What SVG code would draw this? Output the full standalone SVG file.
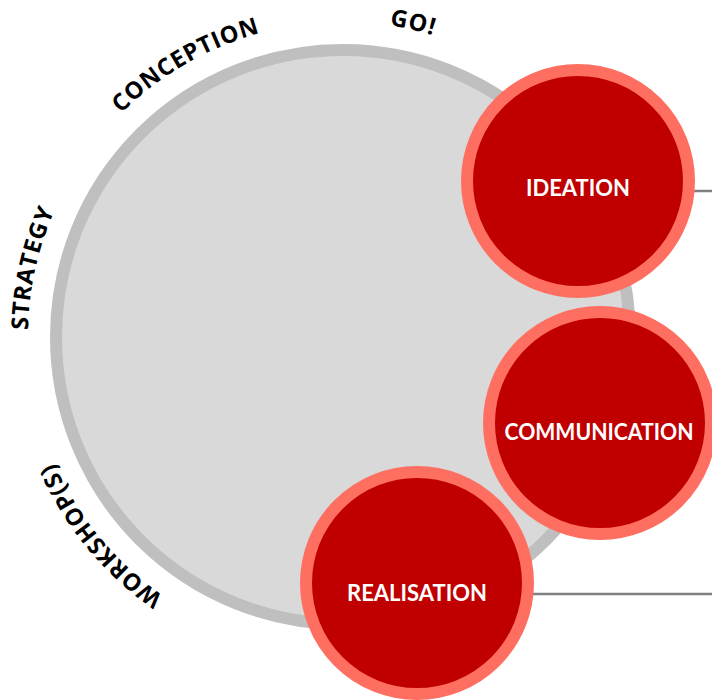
<svg xmlns="http://www.w3.org/2000/svg" xmlns:xlink="http://www.w3.org/1999/xlink" width="712" height="700" viewBox="0 0 712 700">
<style>
.arc{font-family:"Open Sans","DejaVu Sans",sans-serif;font-weight:700;font-size:23.5px;fill:#000;letter-spacing:0.8px}
.node circle{fill:#c00000;stroke:#ff6f61;stroke-width:12}
.node text{font-family:Lato,"Liberation Sans",sans-serif;font-weight:700;font-size:22px;fill:#fff;text-anchor:middle}
.conn line{stroke:#808080;stroke-width:2.5}
</style>
<defs>
<path id="ring" d="M 658 337 A 315 315 0 1 1 28 337 A 315 315 0 1 1 658 337"/>
</defs>
<rect width="712" height="700" fill="#fff"/>
<g id="main">
<circle cx="343" cy="337" r="287" fill="#d9d9d9" stroke="#bfbfbf" stroke-width="12"/>
</g>
<g id="labels" class="arc">
<text><textPath xlink:href="#ring" href="#ring" startOffset="773" text-anchor="middle">WORKSHOP(S)</textPath></text>
<text><textPath xlink:href="#ring" href="#ring" startOffset="1058" text-anchor="middle">STRATEGY</textPath></text>
<text><textPath xlink:href="#ring" href="#ring" startOffset="1319" text-anchor="middle">CONCEPTION</textPath></text>
<text><textPath xlink:href="#ring" href="#ring" startOffset="1553" text-anchor="middle">GO!</textPath></text>
</g>
<g id="connectors" class="conn">
<line x1="690" y1="191" x2="712" y2="191"/>
<line x1="530" y1="594" x2="712" y2="594"/>
</g>
<g id="ideation" class="node">
<circle cx="578" cy="181" r="111"/>
<text x="578" y="196">IDEATION</text>
</g>
<g id="communication" class="node">
<circle cx="600" cy="423" r="111"/>
<text x="599" y="440" textLength="189" lengthAdjust="spacingAndGlyphs">COMMUNICATION</text>
</g>
<g id="realisation" class="node">
<circle cx="417" cy="583" r="111"/>
<text x="417" y="601">REALISATION</text>
</g>
</svg>
